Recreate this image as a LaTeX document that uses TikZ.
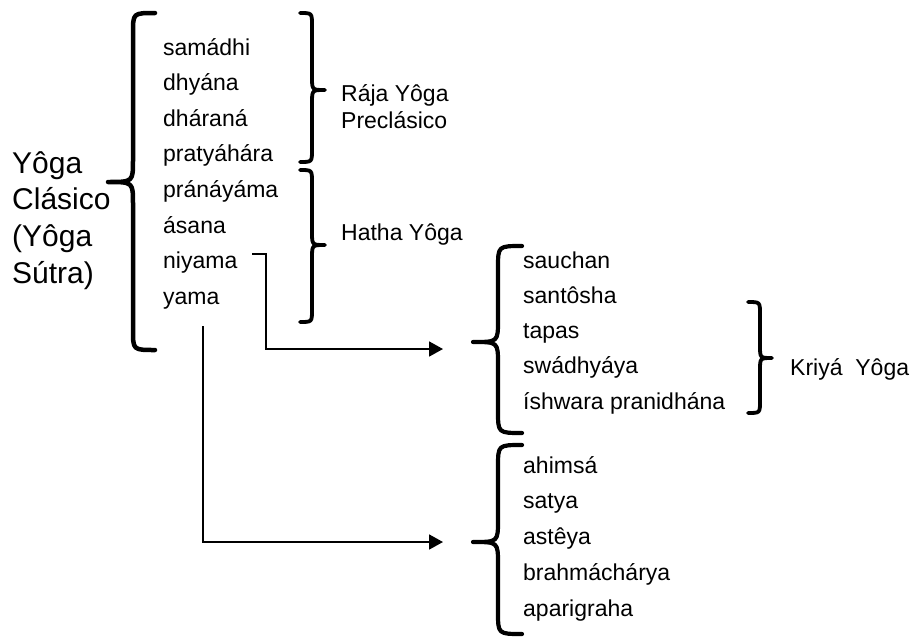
\documentclass[tikz,border=0pt]{standalone}
\usepackage{fontspec}
\setmainfont{Liberation Sans}
\usetikzlibrary{arrows.meta}
\newcommand{\ybrace}[9]{%
  \draw[bracestyle,line width=#9] (#1,#4) .. controls (#2,#4) .. (#2,{#4+#7})
    -- (#2,{#5-#8}) .. controls (#2,#5) .. (#3,#5)
    .. controls (#2,#5) .. (#2,{#5+#8})
    -- (#2,{#6-#7}) .. controls (#2,#6) .. (#1,#6);}
\begin{document}
\begin{tikzpicture}[x=1pt,y=-1pt,
  item/.style={anchor=base west,inner sep=0pt,font=\fontsize{23}{26}\selectfont},
  big/.style={anchor=base west,inner sep=0pt,font=\fontsize{30}{34}\selectfont},
  bracestyle/.style={line cap=round,line join=round},
  conn/.style={line width=1.8pt,-{Triangle[length=14pt,width=15pt]}}]
\useasboundingbox (0,0) rectangle (912,637);
% big label
\node[big] (l1) at (12,173) {Yôga};
\node[big] (l2) at (12,209.7) {Clásico};
\node[big] (l3) at (12,246.4) {(Yôga};
\node[big] (l4) at (12,283) {Sútra)};
% left column
\node[item] (samadhi) at (163,55) {samádhi};
\node[item] (dhyana) at (163,90.6) {dhyána};
\node[item] (dharana) at (163,126.2) {dháraná};
\node[item] (pratya) at (163,161.8) {pratyáhára};
\node[item] (prana) at (163,197.4) {pránáyáma};
\node[item] (asana) at (163,233) {ásana};
\node[item] (niyama) at (163,268.6) {niyama};
\node[item] (yama) at (163,304.2) {yama};
% group labels
\node[item] (raja1) at (341,101.7) {Rája Yôga};
\node[item] (raja2) at (341,128.3) {Preclásico};
\node[item] (hatha) at (341,240) {Hatha Yôga};
% niyama items
\node[item] (sauchan) at (523,268) {sauchan};
\node[item] (santosha) at (523,303.3) {santôsha};
\node[item] (tapas) at (523,338.6) {tapas};
\node[item] (swadh) at (523,373.9) {swádhyáya};
\node[item] (ishwara) at (523,409.2) {íshwara pranidhána};
\node[item] (kriya) at (790,375.7) {Kriyá\ \ Yôga};
% yama items
\node[item] (ahimsa) at (523,473) {ahimsá};
\node[item] (satya) at (523,508.8) {satya};
\node[item] (asteya) at (523,544.6) {astêya};
\node[item] (brahma) at (523,580.4) {brahmáchárya};
\node[item] (apari) at (523,616.2) {aparigraha};
% braces
\ybrace{155}{133}{108}{13}{182}{350}{20}{22}{4.5pt}
\ybrace{300}{312}{325}{13}{90}{162}{12}{13}{3.8pt}
\ybrace{300}{312}{325}{170}{245}{322}{12}{13}{3.8pt}
\ybrace{522}{498}{473}{246}{342}{433}{22}{22}{4.2pt}
\ybrace{748}{760}{772}{302}{358}{413}{12}{12}{3.8pt}
\ybrace{522}{498}{473}{445}{542}{634}{22}{22}{4.2pt}
% connectors
\coordinate (nstart) at (252,254);
\coordinate (nend) at (443,349);
\coordinate (ystart) at (203,326);
\coordinate (yend) at (443,542);
\draw[conn] (nstart) -| (266,349) -- (nend);
\draw[conn] (ystart) |- (yend);
\end{tikzpicture}
\end{document}
